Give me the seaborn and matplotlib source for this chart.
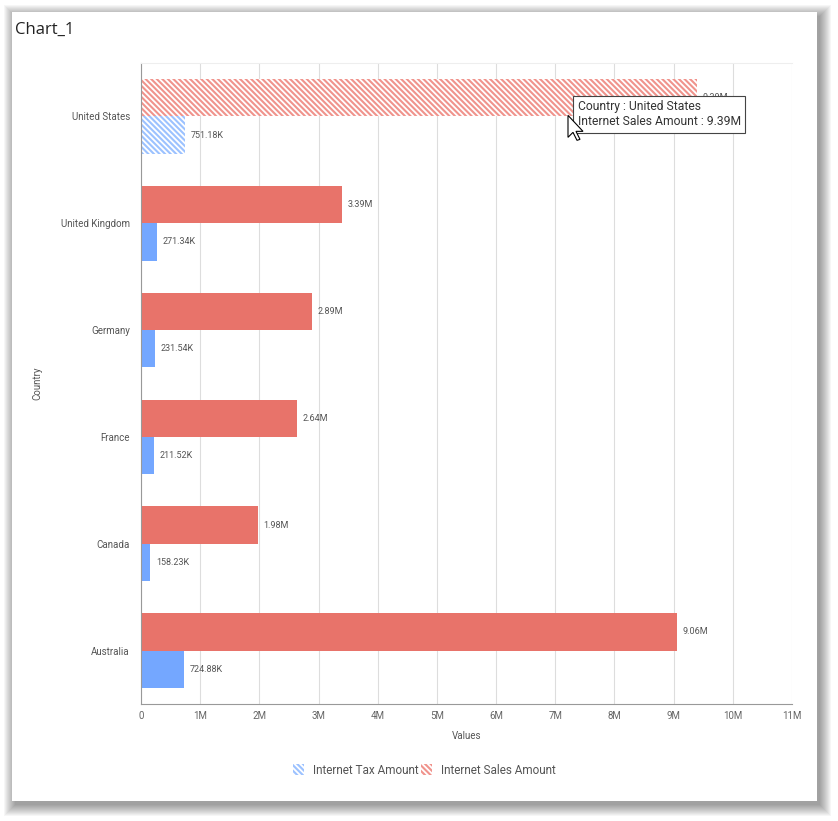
import matplotlib
matplotlib.use("Agg")
import matplotlib.pyplot as plt
import matplotlib.transforms as mtransforms
from matplotlib.patches import Patch, Rectangle, Polygon
import seaborn as sns
import pandas as pd

countries = ["United States", "United Kingdom", "Germany", "France", "Canada", "Australia"]
sales = [9.39e6, 3.39e6, 2.89e6, 2.64e6, 1.98e6, 9.06e6]
tax = [751.18e3, 271.34e3, 231.54e3, 211.52e3, 158.23e3, 724.88e3]
x_ticks = [0, 1e6, 2e6, 3e6, 4e6, 5e6, 6e6, 7e6, 8e6, 9e6, 10e6, 11e6]
x_tick_labels = ["0", "1M", "2M", "3M", "4M", "5M", "6M", "7M", "8M", "9M", "10M", "11M"]

SALES = "Internet Sales Amount"
TAX = "Internet Tax Amount"
red, red_light = "#E8736A", "#F0938C"
blue, blue_light = "#74A7FF", "#9CC2FF"
HATCH = "\\" * 6

df = pd.DataFrame({"Country": countries, SALES: sales, TAX: tax})
df = df.melt(id_vars="Country", var_name="Measure", value_name="Value")

sns.set_style("white")
plt.rcParams["font.family"] = ["Roboto", "DejaVu Sans"]
plt.rcParams["hatch.linewidth"] = 1.5

W, H = 838, 821
fig = plt.figure(figsize=(W / 100, H / 100), dpi=100)
fig.patch.set_facecolor("white")

def fx(px):
    return px / W

def fy(py):
    return 1 - py / H

# card shadow + card
for i in range(12):
    fig.patches.append(Rectangle((fx(12 - i + 3), fy(801 + i + 4)), (805 + 2 * i) / W, (789 + 2 * i) / H,
                                 transform=fig.transFigure, facecolor="black", alpha=0.035,
                                 linewidth=0, zorder=-10))
fig.patches.append(Rectangle((fx(12), fy(801)), 805 / W, 789 / H, transform=fig.transFigure,
                             facecolor="white", linewidth=0, zorder=-5))
fig.text(fx(15), fy(30), "Chart_1", fontsize=12, color="#222", va="center", ha="left",
         family=["Open Sans", "DejaVu Sans"])

ax = fig.add_axes([fx(141), fy(704), 651 / W, 641 / H])
ax.patch.set_alpha(0)

sns.barplot(data=df, y="Country", x="Value", hue="Measure", hue_order=[SALES, TAX],
            palette=[red, blue], order=countries, orient="h", width=0.7,
            saturation=1, linewidth=0, legend=False, ax=ax)

ax.set_xlim(0, 11e6)
ax.set_ylim(5.5, -0.5)
ax.set_xticks(x_ticks)
ax.set_xticklabels(x_tick_labels)
ax.set_yticks(range(len(countries)))
ax.set_yticklabels(countries)
ax.set_yticks([i - 0.5 for i in range(len(countries) + 1)], minor=True)
ax.tick_params(axis="y", which="major", length=0, pad=8, labelsize=7, labelcolor="#555")
ax.tick_params(axis="y", which="minor", length=4, color="#888", width=0.8)
ax.tick_params(axis="x", which="major", length=4, color="#888", width=0.8, pad=1,
               labelsize=7, labelcolor="#666")
ax.grid(axis="x", color="#DDDDDD", linewidth=0.8)
ax.set_axisbelow(True)
for side in ["left", "bottom"]:
    ax.spines[side].set_color("#999")
    ax.spines[side].set_linewidth(0.8)
ax.spines["top"].set_color("#EEEEEE")
ax.spines["right"].set_visible(False)
ax.set_xlabel("Values", fontsize=7, color="#555", labelpad=7)
ax.set_ylabel("Country", fontsize=7, color="#555", labelpad=13)

ax.bar_label(ax.containers[0], labels=[f"{v / 1e6:.2f}M" for v in sales],
             padding=4, fontsize=6.5, color="#555")
ax.bar_label(ax.containers[1], labels=[f"{v / 1e3:.2f}K" for v in tax],
             padding=4, fontsize=6.5, color="#555")

# hovered category drawn hatched
for bar, col in [(ax.containers[0][0], red_light), (ax.containers[1][0], blue_light)]:
    bar.set_facecolor("white")
    bar.set_edgecolor(col)
    bar.set_hatch(HATCH)
    bar.set_linewidth(0)

# tooltip
ax.text(7.38e6, -0.15, f"Country : {countries[0]}\n{SALES} : {sales[0] / 1e6:.2f}M",
        va="top", ha="left", fontsize=8.7, color="#333", linespacing=1.2, zorder=10,
        bbox=dict(boxstyle="square,pad=0.38", facecolor="white", edgecolor="#444", linewidth=0.8))
cursor = [(0, 0), (0, 22), (5, 17), (9, 25), (12, 24), (8, 16), (15, 16)]
ax.add_patch(Polygon(cursor, closed=True, facecolor="white", edgecolor="black", linewidth=0.8,
                     clip_on=False, zorder=11,
                     transform=mtransforms.Affine2D().scale(1, -1)
                     + mtransforms.ScaledTranslation(7.215e6, -0.01, ax.transData)))

handles = [Patch(facecolor="white", edgecolor=blue_light, hatch=HATCH, linewidth=0, label=TAX),
           Patch(facecolor="white", edgecolor=red_light, hatch=HATCH, linewidth=0, label=SALES)]
fig.legend(handles=handles, loc="center", bbox_to_anchor=(fx(424), fy(770)), ncol=2,
           frameon=False, fontsize=8.5, labelcolor="#555", handlelength=1.0, handleheight=1.0,
           handletextpad=0.7, columnspacing=0.2)

fig.savefig("out.png", dpi=100)
